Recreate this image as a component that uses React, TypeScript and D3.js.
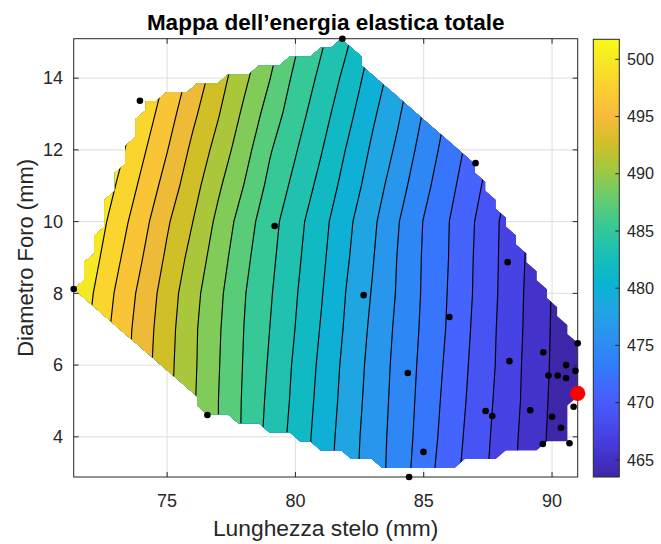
import React, { useMemo } from "react";
import * as d3 from "d3";

// Energy field sampled on a 1 mm grid (rows follow gridY, columns follow gridX)
const gridX = [71, 72, 73, 74, 75, 76, 77, 78, 79, 80, 81, 82, 83, 84, 85, 86, 87, 88, 89, 90, 91];
const gridY = [3, 4, 5, 6, 7, 8, 9, 10, 11, 12, 13, 14, 15];
const energyGrid = [
  [501.7, 499.5, 497.3, 495.15, 493.05, 491.0, 488.95, 486.8, 484.6, 482.75, 480.8, 478.85, 477.15, 475.4, 473.4, 471.5, 469.8, 468.15, 466.5, 464.9, 463.3],
  [501.75, 499.5, 497.35, 495.2, 493.05, 491.0, 489.0, 486.9, 484.75, 482.9, 480.95, 479.0, 477.2, 475.5, 473.65, 471.75, 469.95, 468.3, 466.6, 464.95, 463.3],
  [501.8, 499.55, 497.35, 495.25, 493.1, 491.05, 489.0, 486.95, 484.95, 483.1, 481.15, 479.2, 477.35, 475.6, 473.8, 471.95, 470.15, 468.45, 466.75, 465.05, 463.35],
  [501.9, 499.65, 497.45, 495.35, 493.2, 491.15, 489.1, 487.05, 485.15, 483.25, 481.35, 479.35, 477.5, 475.7, 473.95, 472.15, 470.3, 468.6, 466.8, 465.15, 463.45],
  [502.05, 499.85, 497.6, 495.5, 493.35, 491.2, 489.2, 487.15, 485.35, 483.5, 481.6, 479.6, 477.7, 475.85, 474.1, 472.35, 470.45, 468.65, 466.9, 465.2, 463.5],
  [502.5, 500.2, 497.95, 495.8, 493.6, 491.45, 489.4, 487.3, 485.55, 483.7, 481.85, 479.8, 477.95, 476.05, 474.2, 472.45, 470.6, 468.75, 466.95, 465.25, 463.55],
  [503.0, 500.8, 498.55, 496.4, 494.15, 492.0, 489.85, 487.65, 485.8, 483.95, 482.1, 480.1, 478.2, 476.15, 474.25, 472.55, 470.65, 468.8, 467.05, 465.35, 463.7],
  [503.55, 501.35, 499.15, 497.0, 494.7, 492.65, 490.35, 488.1, 486.05, 484.2, 482.35, 480.35, 478.45, 476.35, 474.35, 472.6, 470.75, 468.85, 467.15, 465.45, 463.8],
  [504.3, 502.1, 499.9, 497.75, 495.55, 493.35, 491.1, 488.95, 486.7, 484.85, 483.0, 481.0, 479.05, 477.0, 474.95, 473.1, 471.25, 469.4, 467.6, 465.9, 464.25],
  [505.05, 502.9, 500.7, 498.5, 496.35, 494.05, 491.95, 489.7, 487.35, 485.5, 483.65, 481.6, 479.6, 477.7, 475.5, 473.6, 471.75, 469.9, 468.1, 466.4, 464.7],
  [505.85, 503.65, 501.45, 499.25, 497.1, 494.85, 492.75, 490.45, 488.2, 486.15, 484.3, 482.3, 480.2, 478.3, 476.1, 474.1, 472.3, 470.4, 468.55, 466.85, 465.15],
  [506.6, 504.4, 502.2, 500.0, 497.85, 495.65, 493.45, 491.25, 489.05, 486.75, 484.95, 483.0, 480.85, 478.9, 476.8, 474.7, 472.8, 470.9, 469.05, 467.3, 465.6],
  [507.4, 505.2, 503.0, 500.8, 498.6, 496.45, 494.15, 492.05, 489.8, 487.5, 485.6, 483.75, 481.5, 479.5, 477.5, 475.25, 473.3, 471.4, 469.55, 467.75, 466.05],
];

// Design points (stem length, hole diameter)
const sampleX = [71.36, 73.94, 81.83, 79.19, 76.57, 82.66, 87.02, 88.27, 86.0, 84.38, 89.66, 88.34, 91.0, 90.55, 90.91, 89.86, 90.22, 90.55, 90.84, 87.41, 87.67, 89.15, 90.0, 90.35, 89.64, 90.68, 84.99, 84.43];
const sampleY = [8.12, 13.37, 15.1, 9.88, 4.61, 7.95, 11.63, 8.87, 7.34, 5.78, 6.36, 6.11, 6.61, 6.0, 5.84, 5.71, 5.71, 5.64, 4.84, 4.72, 4.58, 4.74, 4.56, 4.25, 3.8, 3.82, 3.58, 2.88];

// Minimum-energy configuration
const optimumX = [91.0];
const optimumY = [5.21];

const colorLimits = [463.5, 501.75];
const levelCount = 20;
const maskResolution = 50;

const xTicks = [75, 80, 85, 90];
const yTicks = [4, 6, 8, 10, 12, 14];
const colorTicks = [465, 470, 475, 480, 485, 490, 495, 500];

const titleText = "Mappa dell\u2019energia elastica totale";
const xLabelText = "Lunghezza stelo (mm)";
const yLabelText = "Diametro Foro (mm)";

// parula colormap anchors
const parulaAnchors = [
  [0.2422, 0.1504, 0.6603],
  [0.2706, 0.2147, 0.8364],
  [0.2813, 0.3006, 0.9414],
  [0.2699, 0.3892, 0.9906],
  [0.1963, 0.4847, 0.9892],
  [0.1687, 0.5703, 0.9359],
  [0.1248, 0.6459, 0.8883],
  [0.0297, 0.7082, 0.8163],
  [0.0964, 0.75, 0.712],
  [0.2161, 0.7843, 0.5923],
  [0.3909, 0.8029, 0.4354],
  [0.6174, 0.7876, 0.2612],
  [0.8203, 0.7498, 0.1535],
  [0.9728, 0.7298, 0.2394],
  [0.9892, 0.8136, 0.1885],
  [0.9597, 0.9135, 0.1423],
  [0.9769, 0.9839, 0.0805],
];
const parulaRows = [0, 4, 8, 12, 16, 20, 24, 28, 32, 36, 40, 44, 48, 52, 56, 60, 63];

const W = 661;
const H = 544;
const plot = { left: 73.7, right: 577.7, top: 38.7, bottom: 477 };
const cbar = { left: 593.3, width: 26, top: 39.3, bottom: 477 };
const FONT = "'Liberation Sans', Arial, Helvetica, sans-serif";
const AXIS_COLOR = "#262626";

const parulaStops = parulaAnchors.map(([r, g, b]) => d3.rgb(r * 255, g * 255, b * 255).formatHex());
const parula = d3
  .scaleLinear<string>()
  .domain(parulaRows.map((r) => r / 63))
  .range(parulaStops)
  .interpolate(d3.interpolateRgb)
  .clamp(true);

// distance from point p to segment ab
function segDist(p: number[], a: number[], b: number[]) {
  const dx = b[0] - a[0];
  const dy = b[1] - a[1];
  const len2 = dx * dx + dy * dy || 1;
  let t = ((p[0] - a[0]) * dx + (p[1] - a[1]) * dy) / len2;
  t = Math.max(0, Math.min(1, t));
  return Math.hypot(p[0] - (a[0] + t * dx), p[1] - (a[1] + t * dy));
}

export default function App() {
  const allX = [...sampleX, ...optimumX];
  const allY = [...sampleY, ...optimumY];
  const xDomain = d3.extent(allX) as [number, number];
  const yDomain = d3.extent(allY) as [number, number];
  const x = d3.scaleLinear().domain(xDomain).range([plot.left, plot.right]);
  const y = d3.scaleLinear().domain(yDomain).range([plot.bottom, plot.top]);
  const cy = d3.scaleLinear().domain(colorLimits).range([cbar.bottom, cbar.top]);
  const colorOf = (v: number) => parula((v - colorLimits[0]) / (colorLimits[1] - colorLimits[0]));

  const levels = d3.range(1, levelCount + 1).map(
    (i) => colorLimits[0] + (i * (colorLimits[1] - colorLimits[0])) / (levelCount + 1)
  );

  // Region covered by the interpolated surface: grid nodes inside (or on) the convex hull of the design points
  const maskPath = useMemo(() => {
    const n = maskResolution;
    const sx = (xDomain[1] - xDomain[0]) / (n - 1);
    const sy = (yDomain[1] - yDomain[0]) / (n - 1);
    // work in grid-index units
    const pts = allX.map((v, i) => [(v - xDomain[0]) / sx, (allY[i] - yDomain[0]) / sy] as [number, number]);
    const hull = d3.polygonHull(pts)!;
    const onHull = (p: number[]) =>
      hull.some((a, k) => segDist(p, a, hull[(k + 1) % hull.length]) < 0.06);
    const valid = d3
      .range(n)
      .map((j) => d3.range(n).map((i) => d3.polygonContains(hull, [i, j]) || onHull([i, j])));
    const px = (i: number) => x(xDomain[0] + i * sx).toFixed(2);
    const py = (j: number) => y(yDomain[0] + j * sy).toFixed(2);
    let d = "";
    for (let j = 0; j < n - 1; j++) {
      for (let i = 0; i < n - 1; i++) {
        const corners = [
          [i, j],
          [i + 1, j],
          [i + 1, j + 1],
          [i, j + 1],
        ].filter(([a, b]) => valid[b][a]);
        if (corners.length >= 3) {
          d += "M" + corners.map(([a, b]) => `${px(a)},${py(b)}`).join("L") + "Z";
        }
      }
    }
    return d;
  }, []);

  const contours = useMemo(() => {
    const nx = gridX.length;
    const ny = gridY.length;
    const stepX = gridX[1] - gridX[0];
    const stepY = gridY[1] - gridY[0];
    const values = energyGrid.flat();
    const gen = d3.contours().size([nx, ny]).thresholds(levels);
    return gen(values).map((c) => {
      const d = c.coordinates
        .map((poly) =>
          poly
            .map(
              (ring) =>
                "M" +
                ring
                  .map(
                    ([cx, cyy]) =>
                      `${x(gridX[0] + (cx - 0.5) * stepX).toFixed(2)},${y(gridY[0] + (cyy - 0.5) * stepY).toFixed(2)}`
                  )
                  .join("L") +
                "Z"
            )
            .join("")
        )
        .join("");
      return { value: c.value, d };
    });
  }, []);

  const tickLen = 5;

  return (
    <svg
      width={W}
      height={H}
      viewBox={`0 0 ${W} ${H}`}
      style={{ position: "absolute", left: 0, top: 0, background: "#fff" }}
      fontFamily={FONT}
    >
      <defs>
        <clipPath id="surface-clip">
          <path d={maskPath} clipRule="nonzero" />
        </clipPath>
        <linearGradient id="parula-bar" x1="0" y1="1" x2="0" y2="0">
          {parulaStops.map((c, i) => (
            <stop key={i} offset={parulaRows[i] / 63} stopColor={c} />
          ))}
        </linearGradient>
      </defs>

      <rect x={0} y={0} width={W} height={H} fill="#fff" />

      {/* grid */}
      <g stroke="#dedede" strokeWidth={1}>
        {xTicks.map((t) => (
          <line key={`gx${t}`} x1={x(t)} x2={x(t)} y1={plot.top} y2={plot.bottom} />
        ))}
        {yTicks.map((t) => (
          <line key={`gy${t}`} x1={plot.left} x2={plot.right} y1={y(t)} y2={y(t)} />
        ))}
      </g>

      {/* filled contours */}
      <g clipPath="url(#surface-clip)">
        <rect
          x={plot.left}
          y={plot.top}
          width={plot.right - plot.left}
          height={plot.bottom - plot.top}
          fill={colorOf(colorLimits[0])}
        />
        {contours.map((c, i) => (
          <path key={`f${i}`} d={c.d} fill={colorOf(c.value)} fillRule="evenodd" stroke="none" />
        ))}
        {contours.map((c, i) => (
          <path key={`l${i}`} d={c.d} fill="none" stroke="#000" strokeWidth={1.15} />
        ))}
      </g>

      {/* axes box and ticks */}
      <g stroke={AXIS_COLOR} strokeWidth={1} fill="none">
        <rect x={plot.left} y={plot.top} width={plot.right - plot.left} height={plot.bottom - plot.top} />
        {xTicks.map((t) => (
          <g key={`tx${t}`}>
            <line x1={x(t)} x2={x(t)} y1={plot.bottom} y2={plot.bottom - tickLen} />
            <line x1={x(t)} x2={x(t)} y1={plot.top} y2={plot.top + tickLen} />
          </g>
        ))}
        {yTicks.map((t) => (
          <g key={`ty${t}`}>
            <line x1={plot.left} x2={plot.left + tickLen} y1={y(t)} y2={y(t)} />
            <line x1={plot.right} x2={plot.right - tickLen} y1={y(t)} y2={y(t)} />
          </g>
        ))}
      </g>

      {/* design points */}
      <g fill="#000">
        {sampleX.map((v, i) => (
          <circle key={`p${i}`} cx={x(v)} cy={y(sampleY[i])} r={3.3} />
        ))}
      </g>
      {optimumX.map((v, i) => (
        <circle key={`o${i}`} cx={x(v)} cy={y(optimumY[i])} r={7.6} fill="#ff0000" />
      ))}

      {/* tick labels */}
      <g fill={AXIS_COLOR} fontSize={18}>
        {xTicks.map((t) => (
          <text key={`lx${t}`} x={x(t)} y={507} textAnchor="middle">
            {t}
          </text>
        ))}
        {yTicks.map((t) => (
          <text key={`ly${t}`} x={63} y={y(t)} dy="0.35em" textAnchor="end">
            {t}
          </text>
        ))}
      </g>

      {/* axis labels and title */}
      <text x={(plot.left + plot.right) / 2} y={536} textAnchor="middle" fontSize={22.8} fill={AXIS_COLOR}>
        {xLabelText}
      </text>
      <text
        transform={`translate(33, ${(plot.top + plot.bottom) / 2}) rotate(-90)`}
        textAnchor="middle"
        fontSize={22}
        fill={AXIS_COLOR}
      >
        {yLabelText}
      </text>
      <text
        x={(plot.left + plot.right) / 2}
        y={30}
        textAnchor="middle"
        fontSize={22.5}
        fontWeight="bold"
        fill="#000"
      >
        {titleText}
      </text>

      {/* colorbar */}
      <rect
        x={cbar.left}
        y={cbar.top}
        width={cbar.width}
        height={cbar.bottom - cbar.top}
        fill="url(#parula-bar)"
        stroke={AXIS_COLOR}
        strokeWidth={1}
      />
      <g stroke={AXIS_COLOR} strokeWidth={1}>
        {colorTicks.map((t) => (
          <line
            key={`ct${t}`}
            x1={cbar.left + cbar.width}
            x2={cbar.left + cbar.width - 4}
            y1={cy(t)}
            y2={cy(t)}
          />
        ))}
      </g>
      <g fill={AXIS_COLOR} fontSize={16.2}>
        {colorTicks.map((t) => (
          <text key={`cl${t}`} x={627} y={cy(t)} dy="0.35em">
            {t}
          </text>
        ))}
      </g>
    </svg>
  );
}
